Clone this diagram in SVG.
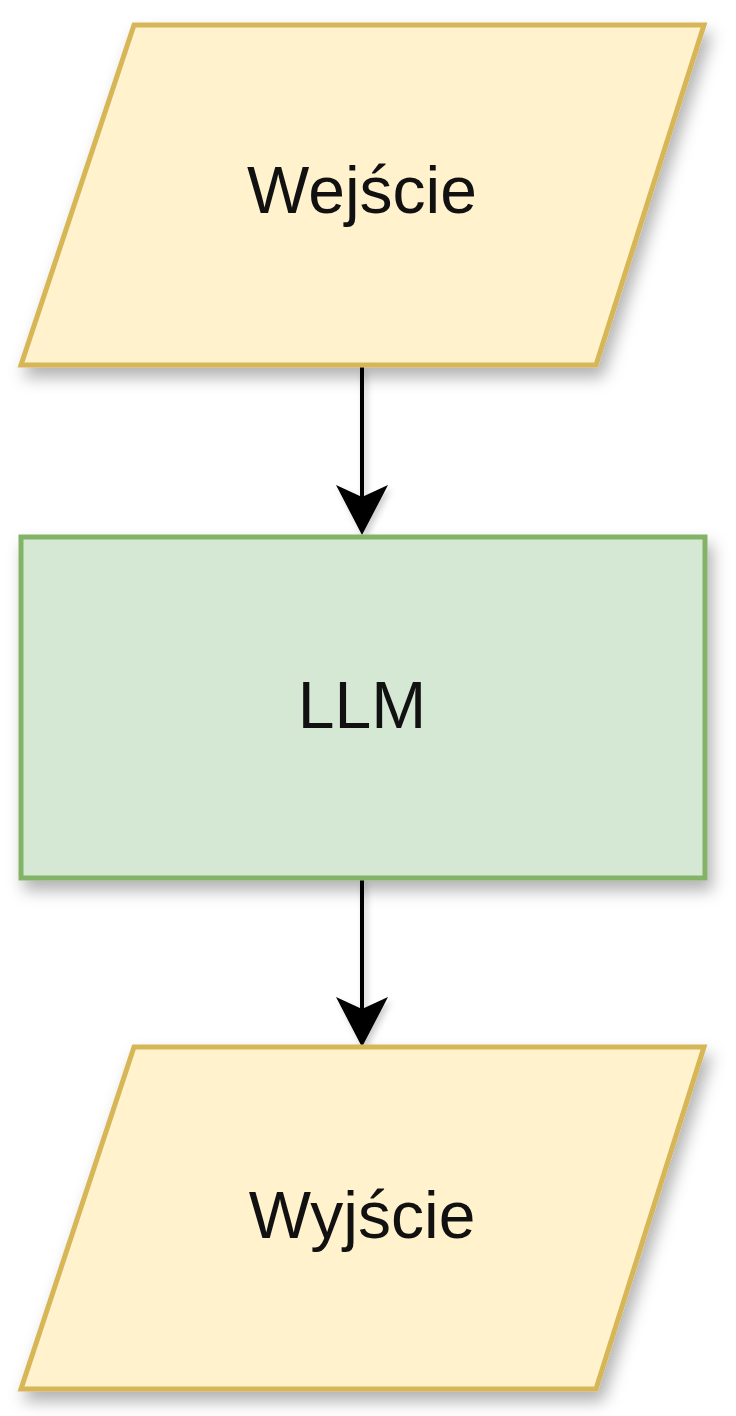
<svg xmlns="http://www.w3.org/2000/svg" width="736" height="1416" viewBox="0 0 736 1416">
  <defs>
    <filter id="shadow" x="-10%" y="-10%" width="130%" height="140%">
      <feDropShadow dx="5" dy="10" stdDeviation="8" flood-color="#000" flood-opacity="0.3"/>
    </filter>
    <filter id="lshadow" filterUnits="userSpaceOnUse" x="0" y="0" width="736" height="1416">
      <feDropShadow dx="3" dy="4" stdDeviation="3" flood-color="#000" flood-opacity="0.2"/>
    </filter>
    <marker id="arrow" viewBox="0 -26 50 52" refX="20" refY="0" markerWidth="50" markerHeight="52" markerUnits="userSpaceOnUse" orient="auto">
      <path d="M0,-26 L50,0 L0,26 L12,0 Z" fill="#000"/>
    </marker>
    <style>
      .io { fill: #fff2cc; stroke: #d6b656; stroke-width: 5; }
      .proc { fill: #d5e8d4; stroke: #82b366; stroke-width: 5; }
      .lbl { font-family: "Liberation Sans", Arial, sans-serif; font-size: 66px; fill: #111; text-anchor: middle; }
      .edge { stroke: #000; stroke-width: 4; fill: none; marker-end: url(#arrow); }
    </style>
  </defs>
  <rect width="736" height="1416" fill="#fff"/>
  <g id="connectors" filter="url(#lshadow)">
    <line class="edge" x1="362" y1="367" x2="362" y2="505"/>
    <line class="edge" x1="362" y1="879" x2="362" y2="1017"/>
  </g>
  <g id="node-wejscie">
    <polygon class="io" filter="url(#shadow)" points="134,25 704,25 596,365 21,365"/>
    <text class="lbl" x="362" y="213">Wejście</text>
  </g>
  <g id="node-llm">
    <rect class="proc" filter="url(#shadow)" x="21" y="537" width="684" height="341"/>
    <text class="lbl" x="362" y="728">LLM</text>
  </g>
  <g id="node-wyjscie">
    <polygon class="io" filter="url(#shadow)" points="134,1047 704,1047 596,1389 21,1389"/>
    <text class="lbl" x="362" y="1238">Wyjście</text>
  </g>
</svg>
